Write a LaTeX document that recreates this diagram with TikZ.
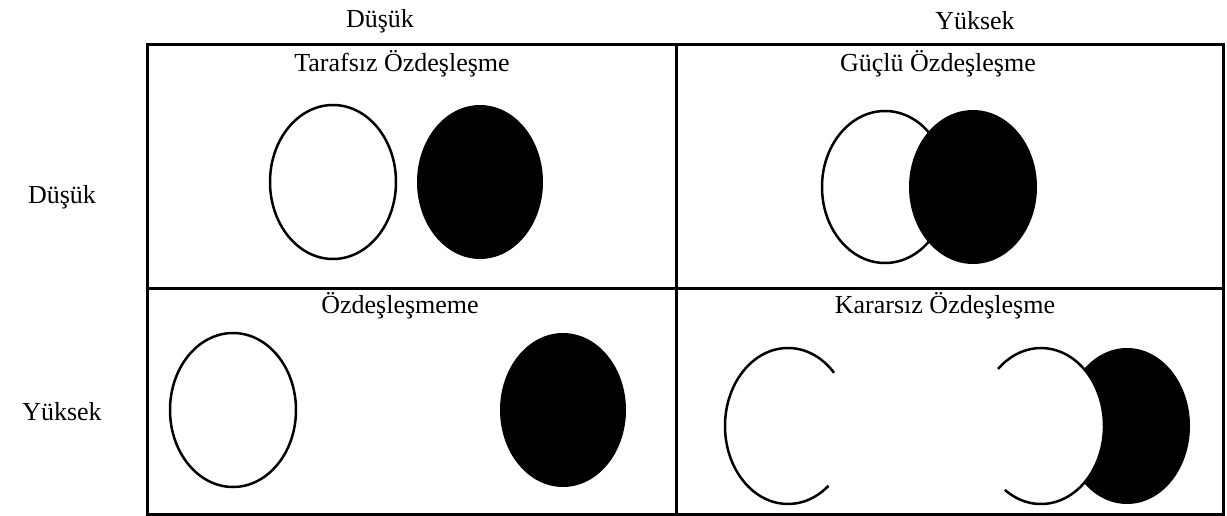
\documentclass[tikz,border=0pt]{standalone}
\usepackage{fontspec}
\setmainfont{Liberation Serif}
\begin{document}
\begin{tikzpicture}[x=1pt,y=-1pt,
  lbl/.style={font=\fontsize{26}{30}\selectfont, inner sep=0pt, anchor=center},
  ring/.style={draw=black, line width=2.5pt, fill=white},
  openring/.style={draw=black, line width=2.5pt},
  blob/.style={fill=black},
  frame/.style={draw=black, line width=3pt}]
\useasboundingbox (0,0) rectangle (1227,516);
% frame
\draw[frame] (147,45) rectangle (1223,514);
\draw[frame] (676,45) -- (676,514);
\draw[frame] (147,288) -- (1223,288);
% headers
\node[lbl] (hlow) at (380,21) {Düşük};
\node[lbl] (hhigh) at (975,21) {Yüksek};
\node[lbl] (rlow) at (62,197) {Düşük};
\node[lbl] (rhigh) at (62,412) {Yüksek};
% cell titles
\node[lbl] (t1) at (402,64) {Tarafsız Özdeşleşme};
\node[lbl] (t2) at (938,64) {Güçlü Özdeşleşme};
\node[lbl] (t3) at (400,306) {Özdeşleşmeme};
\node[lbl] (t4) at (945,306) {Kararsız Özdeşleşme};
% top-left
\coordinate (a1) at (333,182);
\coordinate (a2) at (480,182);
\draw[ring] (a1) ellipse [x radius=63pt, y radius=77pt];
\fill[blob] (a2) ellipse [x radius=63pt, y radius=77pt];
% top-right
\coordinate (b1) at (885,187);
\coordinate (b2) at (973,187);
\draw[ring] (b1) ellipse [x radius=63pt, y radius=76pt];
\fill[blob] (b2) ellipse [x radius=64pt, y radius=77pt];
% bottom-left
\coordinate (c1) at (233,410);
\coordinate (c2) at (563,410);
\draw[ring] (c1) ellipse [x radius=63pt, y radius=77pt];
\fill[blob] (c2) ellipse [x radius=63pt, y radius=77pt];
% bottom-right
\coordinate (d1) at (788,426);
\coordinate (d2) at (1041,426);
\coordinate (d3) at (1127,426);
\draw[openring] ([shift={(43:63pt and 78pt)}]d1) arc[start angle=43, end angle=310, x radius=63pt, y radius=78pt];
\fill[blob] (d3) ellipse [x radius=63pt, y radius=78pt];
\fill[white] (d2) ellipse [x radius=63pt, y radius=78pt];
\draw[openring] ([shift={(-125:63pt and 78pt)}]d2) arc[start angle=-125, end angle=133, x radius=63pt, y radius=78pt];
\end{tikzpicture}
\end{document}
